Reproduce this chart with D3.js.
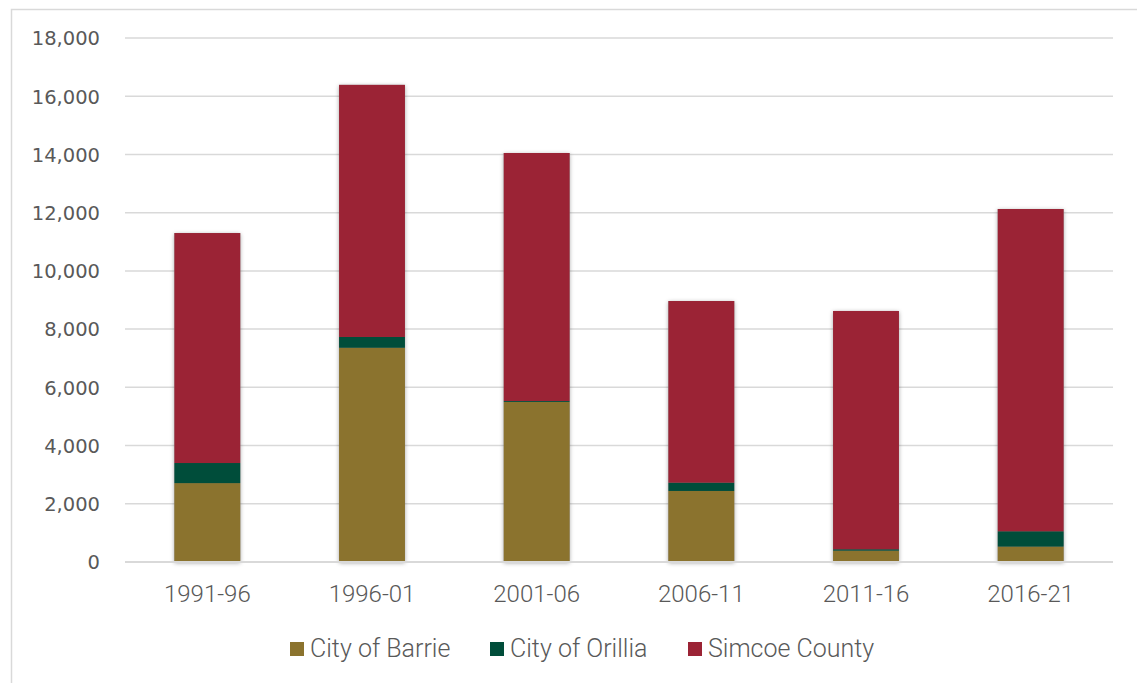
<!DOCTYPE html>
<html><head><meta charset="utf-8">
<script src="https://cdn.jsdelivr.net/npm/d3@7"></script>
<style>body{margin:0;background:#fff;}svg{display:block;}</style>
</head><body>
<svg id="c" width="1137" height="683"></svg>
<script>
const categories = ["1991-96","1996-01","2001-06","2006-11","2011-16","2016-21"];
const seriesNames = ["City of Barrie","City of Orillia","Simcoe County"];
const barrie  = [2710, 7360, 5500, 2440, 390, 530];
const orillia = [690, 370, 30, 285, 48, 525];
const simcoe  = [7900, 8660, 8520, 6240, 8185, 11070];
const colors = ["#8B732E","#004D3A","#9B2335"];
const yTicks = [0,2000,4000,6000,8000,10000,12000,14000,16000,18000];

const svg = d3.select("#c");
const defs = svg.append("defs");
const f = defs.append("filter").attr("id","sh").attr("x","-20%").attr("y","-5%").attr("width","140%").attr("height","110%");
f.append("feDropShadow").attr("dx",0).attr("dy",1).attr("stdDeviation",2).attr("flood-color","#000").attr("flood-opacity",0.35);

// chart border
svg.append("rect").attr("x",11.5).attr("y",9.5).attr("width",1140).attr("height",690)
  .attr("fill","none").attr("stroke","#d9d9d9").attr("stroke-width",1.5);

const pLeft=125, pRight=1113, pTop=38, pBottom=562;
const x = d3.scaleBand().domain(categories).range([pLeft,pRight]).paddingInner(0.6).paddingOuter(0.3);
const y = d3.scaleLinear().domain([0,18000]).range([pBottom,pTop]);

// gridlines
svg.append("g").selectAll("line").data(yTicks).join("line")
  .attr("x1",pLeft).attr("x2",pRight).attr("y1",d=>y(d)).attr("y2",d=>y(d))
  .attr("stroke","#d9d9d9").attr("stroke-width",1.5);

// y axis labels
const yAxis = d3.axisLeft(y).tickValues(yTicks).tickFormat(d3.format(",")).tickSize(0).tickPadding(0);
const yg = svg.append("g").attr("transform",`translate(100,0)`).call(yAxis);
yg.select(".domain").remove();
yg.selectAll("text").attr("font-family","'DejaVu Sans', sans-serif").attr("font-size",19.5).attr("fill","#595959").attr("dy","0.35em");

const data = categories.map((c,i)=>({cat:c, b:barrie[i], o:orillia[i], s:simcoe[i]}));
const stack = d3.stack().keys(["b","o","s"])(data);

const bars = svg.append("g");
bars.selectAll("rect.shadow").data(data).join("rect")
  .attr("x",d=>x(d.cat)).attr("width",x.bandwidth())
  .attr("y",d=>y(d.b+d.o+d.s)).attr("height",d=>y(0)-y(d.b+d.o+d.s))
  .attr("fill","#888").attr("filter","url(#sh)");
stack.forEach((layer,k)=>{
  bars.append("g").selectAll("rect").data(layer).join("rect")
    .attr("x",d=>x(d.data.cat)).attr("width",x.bandwidth())
    .attr("y",d=>y(d[1])).attr("height",d=>y(d[0])-y(d[1]))
    .attr("fill",colors[k]);
});

// zero line
svg.append("line").attr("x1",pLeft).attr("x2",pRight).attr("y1",y(0)).attr("y2",y(0))
  .attr("stroke","#d9d9d9").attr("stroke-width",2);

// x axis labels
const xAxis = d3.axisBottom(x).tickSize(0).tickPadding(0);
const xg = svg.append("g").attr("transform",`translate(0,${pBottom})`).call(xAxis);
xg.select(".domain").remove();
xg.selectAll("text").attr("font-family","Roboto, sans-serif").attr("font-weight",300).attr("font-size",24)
  .attr("fill","#595959").attr("dy",null).attr("y",40);

// legend
const legX = [290, 490, 688];
const lg = svg.append("g");
seriesNames.forEach((n,i)=>{
  lg.append("rect").attr("x",legX[i]).attr("y",642).attr("width",14).attr("height",14).attr("fill",colors[i]);
  lg.append("text").attr("x",legX[i]+20).attr("y",657).text(n)
    .attr("font-family","Roboto, sans-serif").attr("font-weight",300).attr("font-size",25).attr("fill","#595959");
});
</script>
</body></html>
